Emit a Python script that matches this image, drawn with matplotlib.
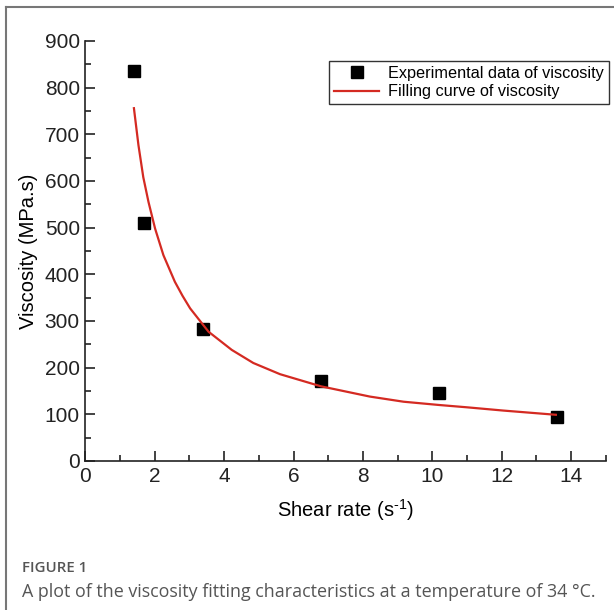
import numpy as np
import matplotlib
matplotlib.use('Agg')
import matplotlib.pyplot as plt
from matplotlib.ticker import MultipleLocator
from matplotlib.lines import Line2D

plt.rcParams['font.family'] = ['Liberation Sans', 'DejaVu Sans']
plt.rcParams['mathtext.default'] = 'regular'

shear_rate = [1.40, 1.69, 3.40, 6.79, 10.19, 13.59]
viscosity = [835, 510, 282, 172, 146, 94]

# fitted curve, points
fit_x = [1.40, 1.53, 1.67, 1.82, 2.01, 2.25, 2.58, 2.80, 3.02, 3.55, 4.22,
         4.84, 5.61, 6.79, 8.20, 9.17, 10.19, 11.00, 12.05, 13.56]
fit_y = [756, 677, 608, 555, 498, 441, 384, 354, 327, 277, 238,
         210, 186, 160, 138, 127, 120, 115, 108, 99]

fig = plt.figure(figsize=(6.14, 6.10), dpi=100)
ax = fig.add_axes([0.139, 0.2443, 0.8477, 0.6885])

ax.plot(shear_rate, viscosity, 's', color='black', markersize=8.5,
        linestyle='none', label='Experimental data of viscosity')
ax.plot(fit_x, fit_y, color='#d42a22', linewidth=1.6,
        label='Filling curve of viscosity')

ax.set_xlim(0, 15)
ax.set_ylim(0, 900)
ax.xaxis.set_major_locator(MultipleLocator(2))
ax.xaxis.set_minor_locator(MultipleLocator(1))
ax.yaxis.set_major_locator(MultipleLocator(100))
ax.yaxis.set_minor_locator(MultipleLocator(50))
ax.tick_params(which='both', direction='in', width=1.2, colors='#222222',
               labelsize=15)
ax.tick_params(which='major', length=7)
ax.tick_params(which='minor', length=4)
ax.tick_params(axis='x', pad=4)
ax.tick_params(axis='y', pad=4)
for s in ['top', 'right']:
    ax.spines[s].set_visible(False)
for s in ['left', 'bottom']:
    ax.spines[s].set_linewidth(1.2)
    ax.spines[s].set_color('#222222')

ax.set_xlabel('Shear rate (s$^{\u2010 1}$)', fontsize=14.5, labelpad=8)
ax.set_ylabel('Viscosity (MPa.s)', fontsize=14.5, labelpad=5)

leg = ax.legend(loc='upper right', bbox_to_anchor=(1.006, 0.952),
                fontsize=11.7, frameon=True, fancybox=False, borderpad=0.3,
                handlelength=2.8, handletextpad=0.55, labelspacing=0.2,
                borderaxespad=0)
leg.get_frame().set_edgecolor('black')
leg.get_frame().set_linewidth(1.0)

# page frame and caption
fig.add_artist(Line2D([6 / 614, 6 / 614], [0, 1 - 7 / 610], color='#777777',
                      linewidth=1.5, transform=fig.transFigure))
fig.add_artist(Line2D([6 / 614, 1], [1 - 7 / 610, 1 - 7 / 610], color='#777777',
                      linewidth=1.5, transform=fig.transFigure))
fig.text(22 / 614, 1 - 568 / 610, 'FIGURE 1', fontsize=10.8, color='#555555',
         family=['Open Sans', 'DejaVu Sans'], fontweight='semibold', va='center')
fig.text(22 / 614, 1 - 592 / 610,
         'A plot of the viscosity fitting characteristics at a temperature of 34 °C.',
         fontsize=12.9, color='#555555', family=['Open Sans', 'DejaVu Sans'],
         va='center')

fig.savefig('out.png', dpi=100)
